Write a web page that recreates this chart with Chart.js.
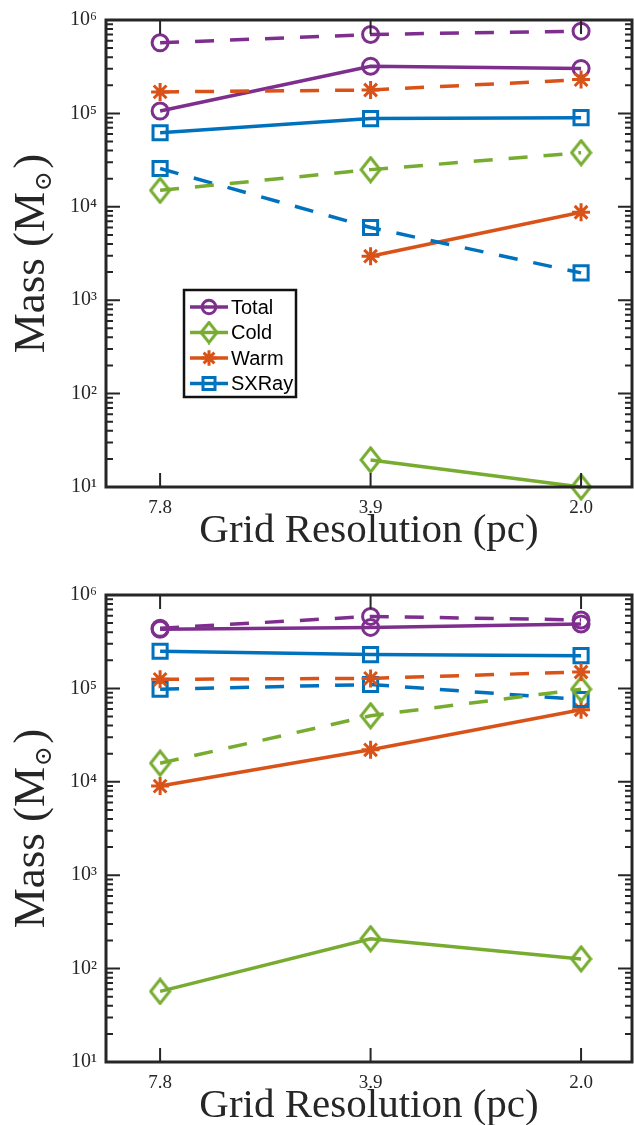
<!DOCTYPE html>
<html>
<head>
<meta charset="utf-8">
<title>Mass vs grid resolution</title>
<script src="https://cdn.jsdelivr.net/npm/chart.js@4.4.1/dist/chart.umd.min.js"></script>
<style>
  html, body { margin: 0; padding: 0; background: #fff; overflow: hidden; }
  canvas { display: block; }
</style>
</head>
<body>
<canvas id="massTop" width="634" height="560"></canvas>
<canvas id="massBottom" width="634" height="565"></canvas>
<script>
const resolutions = ['7.8', '3.9', '2.0'];
const decades = [1e1, 1e2, 1e3, 1e4, 1e5, 1e6];
const decadeLabels = ['10¹', '10²', '10³', '10⁴', '10⁵', '10⁶'];
const legendNames = ['Total', 'Cold', 'Warm', 'SXRay'];

// upper panel (solid and dashed runs)
const topTotal = [1.06e5, 3.2e5, 3.03e5];
const topTotalDash = [5.7e5, 7.0e5, 7.6e5];
const topCold = [null, 19.5, 10];
const topColdDash = [1.5e4, 2.5e4, 3.8e4];
const topWarm = [null, 2.96e3, 8.75e3];
const topWarmDash = [1.7e5, 1.78e5, 2.3e5];
const topSXRay = [6.2e4, 8.8e4, 9.0e4];
const topSXRayDash = [2.57e4, 6.0e3, 1.96e3];

// lower panel
const botTotal = [4.3e5, 4.5e5, 4.9e5];
const botTotalDash = [4.4e5, 5.9e5, 5.4e5];
const botCold = [57, 209, 127];
const botColdDash = [1.58e4, 5.1e4, 9.8e4];
const botWarm = [9.0e3, 2.2e4, 5.9e4];
const botWarmDash = [1.25e5, 1.28e5, 1.5e5];
const botSXRay = [2.5e5, 2.3e5, 2.24e5];
const botSXRayDash = [9.8e4, 1.1e5, 7.6e4];

const phaseColors = ['#7E2F8E', '#77AC30', '#D95319', '#0072BD'];
const markerRadius = [8, 10, 9, 10];
const axisColor = '#262626';
const serif = "'Liberation Serif', 'DejaVu Serif', serif";

// tall open diamond, like MATLAB's 'd' marker
function diamondMarker(color, w, h) {
    const c = document.createElement('canvas');
    c.width = w + 4; c.height = h + 4;
    const g = c.getContext('2d');
    g.strokeStyle = color;
    g.lineWidth = 3;
    g.lineJoin = 'miter';
    g.beginPath();
    g.moveTo(c.width / 2, 2);
    g.lineTo(c.width - 2, c.height / 2);
    g.lineTo(c.width / 2, c.height - 2);
    g.lineTo(2, c.height / 2);
    g.closePath();
    g.stroke();
    return c;
}
const coldDiamond = diamondMarker(phaseColors[1], 19, 24);
const smallDiamond = diamondMarker(phaseColors[1], 16, 20);
const phaseMarkers = ['circle', coldDiamond, 'star', 'rect'];

function makeSeries(values, phase, dashed) {
    return {
        data: values.map((v, i) => ({ x: i, y: v })),
        borderColor: phaseColors[phase],
        backgroundColor: 'rgba(0,0,0,0)',
        borderWidth: 3.5,
        borderDash: dashed ? [19, 16] : [],
        tension: 0,
        pointStyle: phaseMarkers[phase],
        pointRadius: markerRadius[phase],
        pointBorderWidth: 3,
        pointBorderColor: phaseColors[phase],
        pointBackgroundColor: 'rgba(0,0,0,0)',
        clip: false,
        spanGaps: false
    };
}

// MATLAB-style box, inward ticks, axis titles and optional legend
const matlabAxes = {
    id: 'matlabAxes',
    afterDatasetsDraw(chart) {
        const { ctx, chartArea: a, scales } = chart;
        const x = scales.x, y = scales.y;
        ctx.save();
        ctx.strokeStyle = axisColor;
        ctx.lineWidth = 2;
        ctx.beginPath();
        for (let d = 1; d <= 5; d++) {
            for (let m = 2; m <= 9; m++) {
                const py = y.getPixelForValue(m * Math.pow(10, d));
                ctx.moveTo(a.left, py); ctx.lineTo(a.left + 7, py);
                ctx.moveTo(a.right, py); ctx.lineTo(a.right - 7, py);
            }
        }
        decades.forEach(v => {
            const py = y.getPixelForValue(v);
            ctx.moveTo(a.left, py); ctx.lineTo(a.left + 14, py);
            ctx.moveTo(a.right, py); ctx.lineTo(a.right - 14, py);
        });
        resolutions.forEach((_, i) => {
            const px = x.getPixelForValue(i);
            ctx.moveTo(px, a.bottom); ctx.lineTo(px, a.bottom - 14);
            ctx.moveTo(px, a.top); ctx.lineTo(px, a.top + 14);
        });
        ctx.stroke();
        ctx.lineWidth = 3;
        ctx.strokeRect(a.left, a.top, a.right - a.left, a.bottom - a.top);
        ctx.restore();
    },
    afterDraw(chart, args, opts) {
        const { ctx, chartArea: a } = chart;
        ctx.save();
        ctx.fillStyle = axisColor;

        // x title
        ctx.font = '41px ' + serif;
        ctx.textAlign = 'center';
        ctx.textBaseline = 'alphabetic';
        ctx.fillText('Grid Resolution (pc)', (a.left + a.right) / 2, a.bottom + 55);

        // y title, rotated, with subscript sun symbol
        ctx.translate(44, (a.top + a.bottom) / 2);
        ctx.rotate(-Math.PI / 2);
        const big = '45px ' + serif, small = "24px 'DejaVu Serif', serif";
        ctx.font = big;
        const w1 = ctx.measureText('Mass (M').width;
        const w3 = ctx.measureText(')').width;
        ctx.font = small;
        const w2 = ctx.measureText('⊙').width + 3;
        let sx = -(w1 + w2 + w3) / 2;
        ctx.textAlign = 'left';
        ctx.font = big;
        ctx.fillText('Mass (M', sx, 0);
        ctx.font = small;
        ctx.fillText('⊙', sx + w1 + 1, 7);
        ctx.font = big;
        ctx.fillText(')', sx + w1 + w2, 0);
        ctx.restore();

        if (opts.legend) {
            const L = opts.legend;
            ctx.save();
            ctx.fillStyle = '#fff';
            ctx.fillRect(L.x, L.y, L.w, L.h);
            ctx.strokeStyle = '#111';
            ctx.lineWidth = 2.5;
            ctx.strokeRect(L.x, L.y, L.w, L.h);
            legendNames.forEach((name, i) => {
                const cy = L.y + 17 + i * 25.5;
                ctx.strokeStyle = phaseColors[i];
                ctx.fillStyle = 'rgba(0,0,0,0)';
                ctx.lineWidth = 3.5;
                ctx.beginPath();
                ctx.moveTo(L.x + 6, cy); ctx.lineTo(L.x + 44, cy);
                ctx.stroke();
                ctx.lineWidth = 3;
                Chart.helpers.drawPoint(ctx, {
                    pointStyle: i === 1 ? smallDiamond : phaseMarkers[i],
                    radius: markerRadius[i] * 0.85,
                    rotation: 0, borderWidth: 3
                }, L.x + 25, cy);
                ctx.fillStyle = '#000';
                ctx.font = "20px 'Liberation Sans', Arial, sans-serif";
                ctx.textAlign = 'left';
                ctx.textBaseline = 'middle';
                ctx.fillText(name, L.x + 47, cy + 1);
            });
            ctx.restore();
        }
    }
};

function panelConfig(series, padTop, xAxisHeight, legend) {
    return {
        type: 'line',
        data: { datasets: series },
        options: {
            responsive: false,
            animation: false,
            devicePixelRatio: 1,
            layout: { autoPadding: false, padding: { top: padTop, right: 2, left: 0, bottom: 0 } },
            plugins: {
                legend: { display: false },
                tooltip: { enabled: false },
                matlabAxes: { legend: legend }
            },
            scales: {
                x: {
                    type: 'linear',
                    min: -0.257,
                    max: 2.242,
                    grid: { display: false, drawTicks: false },
                    border: { display: false },
                    afterBuildTicks: s => { s.ticks = resolutions.map((_, i) => ({ value: i })); },
                    ticks: {
                        callback: v => resolutions[v],
                        font: { family: serif, size: 19 },
                        color: axisColor,
                        padding: 10,
                        maxRotation: 0,
                        autoSkip: false
                    },
                    afterFit: s => {
                        s.height = xAxisHeight;
                        s.paddingLeft = 0;
                        s.paddingRight = 0;
                    }
                },
                y: {
                    type: 'logarithmic',
                    min: 10,
                    max: 1e6,
                    grid: { display: false, drawTicks: false },
                    border: { display: false },
                    afterBuildTicks: s => { s.ticks = decades.map(v => ({ value: v })); },
                    ticks: {
                        callback: (v, i) => decadeLabels[i],
                        font: { family: serif, size: 20 },
                        color: axisColor,
                        padding: 9,
                        autoSkip: false
                    },
                    afterFit: s => {
                        s.width = 106;
                        s.paddingTop = 0;
                        s.paddingBottom = 0;
                    }
                }
            }
        },
        plugins: [matlabAxes]
    };
}

const topSeries = [
    makeSeries(topTotalDash, 0, true),
    makeSeries(topWarmDash, 2, true),
    makeSeries(topColdDash, 1, true),
    makeSeries(topSXRayDash, 3, true),
    makeSeries(topTotal, 0, false),
    makeSeries(topCold, 1, false),
    makeSeries(topWarm, 2, false),
    makeSeries(topSXRay, 3, false)
];

const botSeries = [
    makeSeries(botTotalDash, 0, true),
    makeSeries(botWarmDash, 2, true),
    makeSeries(botColdDash, 1, true),
    makeSeries(botSXRayDash, 3, true),
    makeSeries(botTotal, 0, false),
    makeSeries(botCold, 1, false),
    makeSeries(botWarm, 2, false),
    makeSeries(botSXRay, 3, false)
];

new Chart(document.getElementById('massTop'),
    panelConfig(topSeries, 20, 73, { x: 184, y: 290, w: 112, h: 107 }));
new Chart(document.getElementById('massBottom'),
    panelConfig(botSeries, 35, 63, null));
</script>
</body>
</html>
